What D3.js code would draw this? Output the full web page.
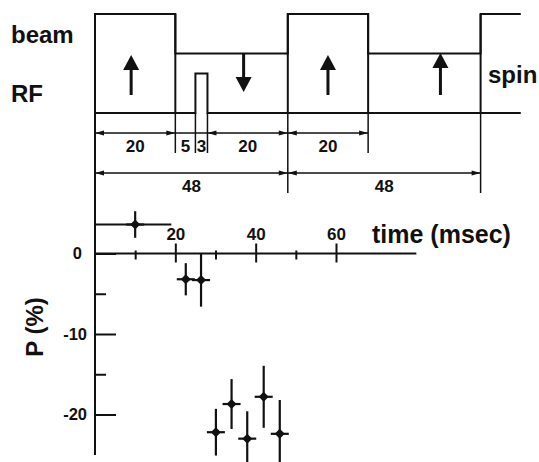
<!DOCTYPE html>
<html>
<head>
<meta charset="utf-8">
<script src="https://cdn.jsdelivr.net/npm/d3@7"></script>
<style>
  body { margin: 0; background: #fff; }
  svg { display: block; }
  text { font-family: "Liberation Sans", Arial, sans-serif; font-weight: bold; fill: #111; }
  .tick line { stroke: #111; stroke-width: 2; }
</style>
</head>
<body>
<div id="chart"></div>
<script>
// Timing diagram: beam on/off, RF pulse, spin direction
var beamTimes = [0, 20, 48, 68, 96, 106];
var beamLevels = [1, 0.6, 1, 0.6, 1];
var rfPulse = [25, 28];
var rfLevel = 0.4;
var spinTimes = [9, 37, 58, 86];
var spinDirs = ["up", "down", "up", "up"];

// dimension rows (start, end, label)
var dimRow1 = [[0, 20, "20"], [20, 25, "5"], [25, 28, "3"], [28, 48, "20"], [48, 68, "20"]];
var dimRow2 = [[0, 48, "48"], [48, 96, "48"]];

// polarization data
var pTime = [10, 22.6, 26.4, 30.1, 34.0, 37.9, 42.0, 46.0];
var pValue = [3.6, -3.2, -3.3, -22.2, -18.7, -23.0, -17.8, -22.4];
var pErr = [1.65, 2.0, 3.3, 2.9, 3.1, 3.4, 3.85, 4.2];
var firstBinRange = [0, 19];

var xTicksMajor = [20, 40, 60];
var xTicksMinor = [10, 30, 50];
var yTicksMajor = [0, -10, -20];
var yTicksMinor = [-5, -15];

var width = 539, height = 462;

var svg = d3.select("#chart").append("svg")
    .attr("width", width)
    .attr("height", height);

var x = d3.scaleLinear().domain([0, 60]).range([95, 336]);
var y = d3.scaleLinear().domain([0, -20]).range([253.5, 414.5]);
// vertical level in the diagram (0 = base line, 1 = beam on)
var lvl = d3.scaleLinear().domain([0, 1]).range([113, 14]);

var ink = "#111";

// ---- diagram ----
var g = svg.append("g")
    .attr("fill", "none")
    .attr("stroke", ink)
    .attr("stroke-width", 2);

// beam trace
var beamPts = [[beamTimes[0], 0]];
beamLevels.forEach(function(l, i) {
    beamPts.push([beamTimes[i], l]);
    beamPts.push([beamTimes[i + 1], l]);
});
g.append("path")
    .attr("d", d3.line().x(function(d){ return x(d[0]); }).y(function(d){ return lvl(d[1]); })(beamPts));

// transitions drop to the base line
beamTimes.slice(1, -1).forEach(function(t) {
    g.append("line")
        .attr("x1", x(t)).attr("x2", x(t))
        .attr("y1", lvl(1)).attr("y2", lvl(0));
});

// RF base line with pulse
var rfPts = [[0, 0], [rfPulse[0], 0], [rfPulse[0], rfLevel], [rfPulse[1], rfLevel], [rfPulse[1], 0], [beamTimes[beamTimes.length - 1], 0]];
g.append("path")
    .attr("d", d3.line().x(function(d){ return x(d[0]); }).y(function(d){ return lvl(d[1]); })(rfPts));

// spin arrows
spinTimes.forEach(function(t, i) {
    var cx = x(t);
    if (spinDirs[i] === "up") {
        var tip = i === 3 ? 53 : 55;
        g.append("line").attr("x1", cx).attr("x2", cx).attr("y1", 95).attr("y2", tip + 10)
            .attr("stroke-width", 3);
        g.append("path")
            .attr("d", "M" + cx + "," + tip + "L" + (cx - 8) + "," + (tip + 15) + "L" + (cx + 8) + "," + (tip + 15) + "Z")
            .attr("fill", ink).attr("stroke", "none");
    } else {
        var tip2 = 92;
        g.append("line").attr("x1", cx).attr("x2", cx).attr("y1", lvl(0.6)).attr("y2", tip2 - 10)
            .attr("stroke-width", 3);
        g.append("path")
            .attr("d", "M" + cx + "," + tip2 + "L" + (cx - 8) + "," + (tip2 - 15) + "L" + (cx + 8) + "," + (tip2 - 15) + "Z")
            .attr("fill", ink).attr("stroke", "none");
    }
});

// extension lines
var row1Y = 133, row2Y = 173;
[20, 25, 28, 68].forEach(function(t) {
    g.append("line").attr("x1", x(t)).attr("x2", x(t)).attr("y1", lvl(0)).attr("y2", 153)
        .attr("stroke-width", 1.5);
});
[48, 96].forEach(function(t) {
    g.append("line").attr("x1", x(t)).attr("x2", x(t)).attr("y1", lvl(0)).attr("y2", 193)
        .attr("stroke-width", 1.5);
});

function arrowHead(px, py, dir) {
    g.append("path")
        .attr("d", "M" + px + "," + py + "L" + (px - dir * 9) + "," + (py - 2.5) + "L" + (px - dir * 9) + "," + (py + 2.5) + "Z")
        .attr("fill", ink).attr("stroke", "none");
}

function dimRow(rows, yy) {
    g.append("line")
        .attr("x1", x(rows[0][0])).attr("x2", x(rows[rows.length - 1][1]))
        .attr("y1", yy).attr("y2", yy).attr("stroke-width", 1.5);
    rows.forEach(function(r) {
        if (r[1] - r[0] > 10) {
            arrowHead(x(r[0]), yy, -1);
            arrowHead(x(r[1]), yy, 1);
        }
        svg.append("text")
            .attr("x", (x(r[0]) + x(r[1])) / 2)
            .attr("y", yy + 18.5)
            .attr("text-anchor", "middle")
            .attr("font-size", 17)
            .text(r[2]);
    });
}
dimRow(dimRow1, row1Y);
dimRow(dimRow2, row2Y);

svg.append("text").attr("x", 11).attr("y", 43).attr("font-size", 24).text("beam");
svg.append("text").attr("x", 11).attr("y", 102).attr("font-size", 24).text("RF");
svg.append("text").attr("x", 488).attr("y", 83).attr("font-size", 24).text("spin");

// ---- plot ----
// y axis line (runs up through the diagram)
svg.append("line")
    .attr("x1", x(0)).attr("x2", x(0))
    .attr("y1", lvl(1)).attr("y2", 455)
    .attr("stroke", ink).attr("stroke-width", 2);

// x axis line
svg.append("line")
    .attr("x1", x(0)).attr("x2", x(80))
    .attr("y1", y(0)).attr("y2", y(0))
    .attr("stroke", ink).attr("stroke-width", 2);

var xMaj = svg.append("g")
    .attr("transform", "translate(0," + y(0) + ")")
    .call(d3.axisBottom(x).tickValues(xTicksMajor).tickSize(9).tickFormat(d3.format("d")));
xMaj.select(".domain").remove();
xMaj.selectAll(".tick line").attr("y1", -10);
xMaj.selectAll(".tick text")
    .attr("y", -14).attr("dy", 0)
    .attr("font-size", 17).attr("font-family", null).attr("fill", ink);

var xMin = svg.append("g")
    .attr("transform", "translate(0," + y(0) + ")")
    .call(d3.axisBottom(x).tickValues(xTicksMinor).tickSize(6).tickFormat(""));
xMin.select(".domain").remove();
xMin.selectAll(".tick line").attr("y1", -3);

var yMaj = svg.append("g")
    .attr("transform", "translate(" + x(0) + ",0)")
    .call(d3.axisLeft(y).tickValues(yTicksMajor).tickSize(-21).tickPadding(8).tickFormat(d3.format("d")));
yMaj.select(".domain").remove();
yMaj.selectAll(".tick text")
    .attr("font-size", 16.5).attr("font-family", null).attr("fill", ink)
    .attr("x", function(d){ return d === 0 ? -13 : -8; })
    .text(function(d){ return d === 0 ? "0" : "-" + Math.abs(d); });

var yMin = svg.append("g")
    .attr("transform", "translate(" + x(0) + ",0)")
    .call(d3.axisLeft(y).tickValues(yTicksMinor).tickSize(-11).tickFormat(""));
yMin.select(".domain").remove();

svg.append("text")
    .attr("x", 372).attr("y", 243)
    .attr("font-size", 25)
    .text("time (msec)");

svg.append("text")
    .attr("transform", "translate(43,327) rotate(-90)")
    .attr("text-anchor", "middle")
    .attr("font-size", 24)
    .text("P (%)");

// data points
var pts = svg.append("g").attr("stroke", ink).attr("fill", ink);

// first bin horizontal range
pts.append("line")
    .attr("x1", x(firstBinRange[0])).attr("x2", x(firstBinRange[1]))
    .attr("y1", y(pValue[0])).attr("y2", y(pValue[0]))
    .attr("stroke-width", 2);

pTime.forEach(function(t, i) {
    var cx = x(t), cy = y(pValue[i]);
    pts.append("line")
        .attr("x1", cx).attr("x2", cx)
        .attr("y1", y(pValue[i] + pErr[i])).attr("y2", y(pValue[i] - pErr[i]))
        .attr("stroke-width", 2.2);
    pts.append("line")
        .attr("x1", cx - 9).attr("x2", cx + 9)
        .attr("y1", cy).attr("y2", cy)
        .attr("stroke-width", 2.2);
    pts.append("path")
        .attr("d", "M" + cx + "," + (cy - 5) + "L" + (cx + 5) + "," + cy + "L" + cx + "," + (cy + 5) + "L" + (cx - 5) + "," + cy + "Z")
        .attr("stroke", "none");
});
</script>
</body>
</html>
